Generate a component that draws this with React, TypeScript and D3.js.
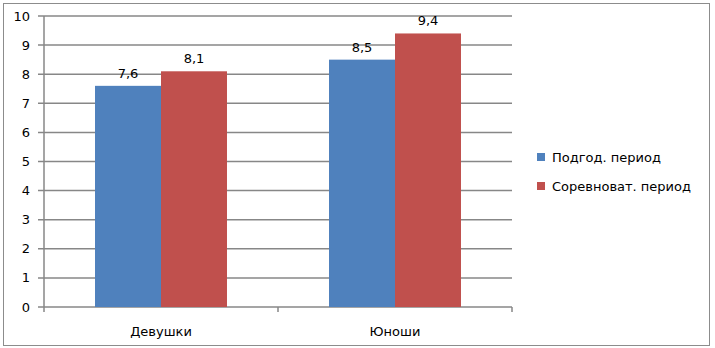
import * as d3 from "d3"

const categories = ["Девушки", "Юноши"]
const seriesNames = ["Подгод. период", "Соревноват. период"]
const prep = [7.6, 8.5]
const comp = [8.1, 9.4]
const yTicks = [0, 1, 2, 3, 4, 5, 6, 7, 8, 9, 10]

const COLORS = ["#4F81BD", "#C0504D"]
const FONT = "DejaVu Sans, Verdana, sans-serif"

const W = 715
const H = 348
const PLOT = { left: 44, right: 512, top: 16, bottom: 307 }

export default function App() {
  const values = [prep, comp]

  const y = d3.scaleLinear().domain([0, 10]).range([PLOT.bottom, PLOT.top])
  const x0 = d3
    .scaleBand<string>()
    .domain(categories)
    .range([PLOT.left, PLOT.right])
    .paddingInner(0.436)
    .paddingOuter(0.218)
  const x1 = d3.scaleBand<number>().domain([0, 1]).range([0, x0.bandwidth()])

  const fmt = (v: number) => v.toFixed(1).replace(".", ",")

  return (
    <svg
      width={W}
      height={H}
      style={{ position: "absolute", left: 0, top: 0, background: "#fff" }}
      fontFamily={FONT}
    >
      <rect x={3.5} y={3.5} width={706} height={342} fill="#fff" stroke="#8c8c8c" strokeWidth={1} />

      {/* gridlines */}
      {yTicks.map((t) => (
        <g key={t}>
          <line x1={PLOT.left - 6} x2={PLOT.right} y1={y(t)} y2={y(t)} stroke="#878787" strokeWidth={1.5} />
          <text x={30} y={y(t)} dy="0.35em" textAnchor="end" fontSize={13} fill="#000">
            {t}
          </text>
        </g>
      ))}
      <line x1={PLOT.left} x2={PLOT.left} y1={PLOT.top} y2={PLOT.bottom} stroke="#878787" strokeWidth={1.5} />
      {/* category ticks */}
      {[PLOT.left, (PLOT.left + PLOT.right) / 2, PLOT.right].map((xx, i) => (
        <line key={i} x1={xx} x2={xx} y1={PLOT.bottom} y2={PLOT.bottom + 5} stroke="#878787" strokeWidth={1.5} />
      ))}

      {/* bars */}
      {categories.map((c, ci) =>
        values.map((s, si) => {
          const bx = (x0(c) ?? 0) + (x1(si) ?? 0)
          return (
            <g key={c + si}>
              <rect x={bx} y={y(s[ci])} width={x1.bandwidth()} height={PLOT.bottom - y(s[ci])} fill={COLORS[si]} />
              <text x={bx + x1.bandwidth() / 2} y={y(s[ci]) - 8} textAnchor="middle" fontSize={13} fill="#000">
                {fmt(s[ci])}
              </text>
            </g>
          )
        })
      )}

      {categories.map((c) => (
        <text key={c} x={(x0(c) ?? 0) + x0.bandwidth() / 2} y={336} textAnchor="middle" fontSize={13} fill="#000">
          {c}
        </text>
      ))}

      {/* legend */}
      {seriesNames.map((n, i) => (
        <g key={n} transform={`translate(537, ${157 + i * 29})`}>
          <rect x={0} y={-4} width={8} height={8} fill={COLORS[i]} />
          <text x={15} y={0} dy="0.35em" fontSize={13} fill="#000">
            {n}
          </text>
        </g>
      ))}
    </svg>
  )
}
